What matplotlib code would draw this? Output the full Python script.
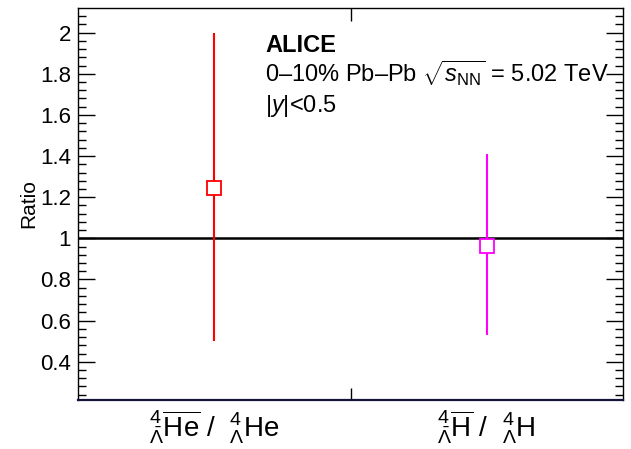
import numpy as np
from matplotlib import pyplot as plt

plt.rcParams['font.family'] = ['Liberation Sans', 'DejaVu Sans']
plt.rcParams['mathtext.fontset'] = 'custom'
plt.rcParams['mathtext.rm'] = 'Liberation Sans'
plt.rcParams['mathtext.it'] = 'Liberation Sans:italic'
plt.rcParams['mathtext.bf'] = 'Liberation Sans:bold'

# data
labels = [r'${}^{4}_{\bar{\Lambda}}\overline{\mathrm{He}}\ /\ \ {}^{4}_{\Lambda}\mathrm{He}$',
          r'${}^{4}_{\bar{\Lambda}}\overline{\mathrm{H}}\ /\ \ {}^{4}_{\Lambda}\mathrm{H}$']
x_pos = [0.5, 1.5]
ratio = [1.245, 0.965]
err_lo = [0.745, 0.435]
err_hi = [0.755, 0.445]
colors = ['#ff0000', '#ff00ff']

fig = plt.figure(figsize=(6.31, 4.49), dpi=100)
ax = fig.add_axes([78/631, 1 - 400/449, 545/631, 392/449])

ax.axhline(1.0, color='black', lw=1.8, zorder=1)

for x, y, lo, hi, c in zip(x_pos, ratio, err_lo, err_hi, colors):
    ax.errorbar([x], [y], yerr=[[lo], [hi]], fmt='s', color=c, ecolor=c,
                elinewidth=1.5, capsize=0, markersize=10,
                markerfacecolor='white', markeredgecolor=c, markeredgewidth=1.3,
                zorder=3)

ax.set_xlim(0, 2)
ax.set_ylim(0.214, 2.12)

ax.set_yticks(np.arange(0.4, 2.01, 0.2))
ax.set_yticklabels(['0.4', '0.6', '0.8', '1', '1.2', '1.4', '1.6', '1.8', '2'])
ax.set_yticks(np.arange(0.24, 2.12, 0.04), minor=True)
ax.tick_params(axis='y', which='major', direction='in', length=12, width=1,
               labelsize=16, right=True, pad=5)
ax.tick_params(axis='y', which='minor', direction='in', length=6, width=1,
               right=True)

ax.set_xticks([1.0])
ax.set_xticklabels([''])
ax.set_xticks(x_pos, minor=True)
ax.set_xticklabels(labels, minor=True, fontsize=20)
ax.tick_params(axis='x', which='major', direction='in', length=9, width=1,
               top=True)
ax.tick_params(axis='x', which='minor', length=0, pad=6)

for s in ax.spines.values():
    s.set_linewidth(1.0)
ax.spines['bottom'].set_linewidth(1.6)
ax.spines['bottom'].set_color('#14143a')

ax.set_ylabel('Ratio', fontsize=15, labelpad=1)

ax.text(265/631, 1 - 52/449, 'ALICE', transform=fig.transFigure,
        fontsize=17, fontweight='bold')
ax.text(265/631, 1 - 82/449,
        r'0–10% Pb–Pb $\sqrt{s_{\mathrm{NN}}}$ = 5.02 TeV',
        transform=fig.transFigure, fontsize=17)
ax.text(265/631, 1 - 112/449, r'|$y$|<0.5', transform=fig.transFigure,
        fontsize=17)

plt.savefig('out.png', dpi=100)
